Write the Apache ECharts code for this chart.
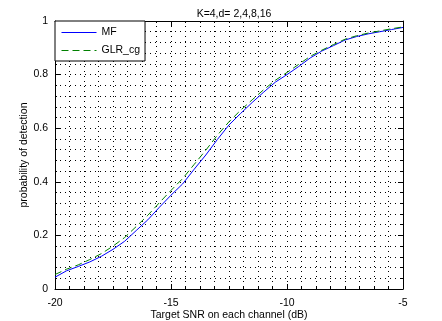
<!DOCTYPE html>
<html>
<head>
    <meta http-equiv="Content-Type" content="text/html; charset=utf-8" />
    <style type="text/css">
        body, html, #main {width: 100%; height: 100%; overflow: hidden; margin: 0; background: #fff;}
    </style>
    <title>Pd vs SNR</title>
</head>
<body>
<div id="main"></div>
<script src="https://cdn.jsdelivr.net/npm/echarts@6/dist/echarts.min.js"></script>
<script type="text/javascript">
    // data
    var snr = [-20, -19.5, -19, -18.5, -18, -17.5, -17, -16.5, -16, -15.5, -15, -14.5, -14, -13.5, -13,
        -12.5, -12, -11.5, -11, -10.5, -10, -9.5, -9, -8.5, -8, -7.5, -7, -6.5, -6, -5.5, -5];
    var mf = [0.044, 0.068, 0.084, 0.101, 0.122, 0.148, 0.178, 0.218, 0.258, 0.305, 0.350, 0.392, 0.447, 0.500, 0.558,
        0.612, 0.655, 0.696, 0.735, 0.772, 0.800, 0.830, 0.862, 0.888, 0.908, 0.929, 0.942, 0.952, 0.960, 0.968, 0.976];
    var glr = [0.054, 0.074, 0.090, 0.110, 0.132, 0.160, 0.192, 0.233, 0.275, 0.322, 0.368, 0.412, 0.465, 0.518, 0.574,
        0.624, 0.667, 0.706, 0.744, 0.779, 0.808, 0.838, 0.868, 0.891, 0.912, 0.932, 0.945, 0.955, 0.963, 0.971, 0.978];
    var seriesNames = ['MF', 'GLR_cg'];

    function pairs(ys) {
        return snr.map(function (x, i) { return [x, ys[i]]; });
    }

    var font = 'Liberation Sans, Arial, Helvetica, sans-serif';
    var fs = 10.5;
    var dotted = {color: '#000', width: 1, type: [1, 4]};

    function xAx(pos, labels) {
        return {
            type: 'value', position: pos, min: -20, max: -5, interval: 5,
            axisLine: {show: true, onZero: false, lineStyle: {color: '#000', width: 1}},
            axisTick: {show: true, inside: true, length: 5, lineStyle: {color: '#000'}},
            minorTick: {show: true, splitNumber: 8, length: 2, lineStyle: {color: '#000'}},
            axisLabel: {show: labels, color: '#000', fontFamily: font, fontSize: fs, margin: 9},
            splitLine: {show: labels, lineStyle: dotted},
            minorSplitLine: {show: labels, lineStyle: dotted},
            name: labels ? 'Target SNR on each channel (dB)' : '',
            nameLocation: 'middle', nameGap: 21, nameMoveOverlap: false,
            nameTextStyle: {color: '#000', fontFamily: font, fontSize: fs}
        };
    }
    function yAx(pos, labels) {
        return {
            type: 'value', position: pos, min: 0, max: 1, interval: 0.2,
            axisLine: {show: true, onZero: false, lineStyle: {color: '#000', width: 1}},
            axisTick: {show: true, inside: true, length: 5, lineStyle: {color: '#000'}},
            minorTick: {show: true, splitNumber: 5, length: 2, lineStyle: {color: '#000'}},
            axisLabel: {show: labels, color: '#000', fontFamily: font, fontSize: fs, margin: 7,
                formatter: function (v) { return String(Math.round(v * 10) / 10); }},
            splitLine: {show: labels, lineStyle: dotted},
            minorSplitLine: {show: labels, lineStyle: dotted},
            name: labels ? 'probability of detection' : '',
            nameLocation: 'middle', nameGap: 25, nameMoveOverlap: false,
            nameTextStyle: {color: '#000', fontFamily: font, fontSize: fs}
        };
    }

    var myChart = echarts.init(document.getElementById('main'));
    myChart.setOption({
        animation: false,
        backgroundColor: '#fff',
        title: {
            text: 'K=4,d= 2,4,8,16', left: 229, top: 4, textAlign: 'center',
            textStyle: {color: '#000', fontFamily: font, fontSize: fs, fontWeight: 'normal'}
        },
        grid: {left: 55, right: 39, top: 21, bottom: 32, outerBoundsMode: 'none', containLabel: false},
        legend: {
            data: seriesNames, orient: 'vertical', left: 55, top: 21,
            itemWidth: 35, itemHeight: 10, itemGap: 7, padding: [6, 5, 5, 6],
            backgroundColor: '#fff', borderColor: '#000', borderWidth: 1, borderRadius: 0,
            itemStyle: {opacity: 0},
            lineStyle: {width: 1},
            textStyle: {color: '#000', fontFamily: font, fontSize: fs}
        },
        xAxis: [xAx('bottom', true), xAx('top', false)],
        yAxis: [yAx('left', true), yAx('right', false)],
        series: [{
            name: seriesNames[0], type: 'line', data: pairs(mf),
            symbol: 'none', lineStyle: {color: '#0000ff', width: 1}, itemStyle: {color: '#0000ff'}
        }, {
            name: seriesNames[1], type: 'line', data: pairs(glr),
            symbol: 'none', lineStyle: {color: '#008000', width: 1, type: [7, 4]}, itemStyle: {color: '#008000'}
        }]
    });
</script>
</body>
</html>
